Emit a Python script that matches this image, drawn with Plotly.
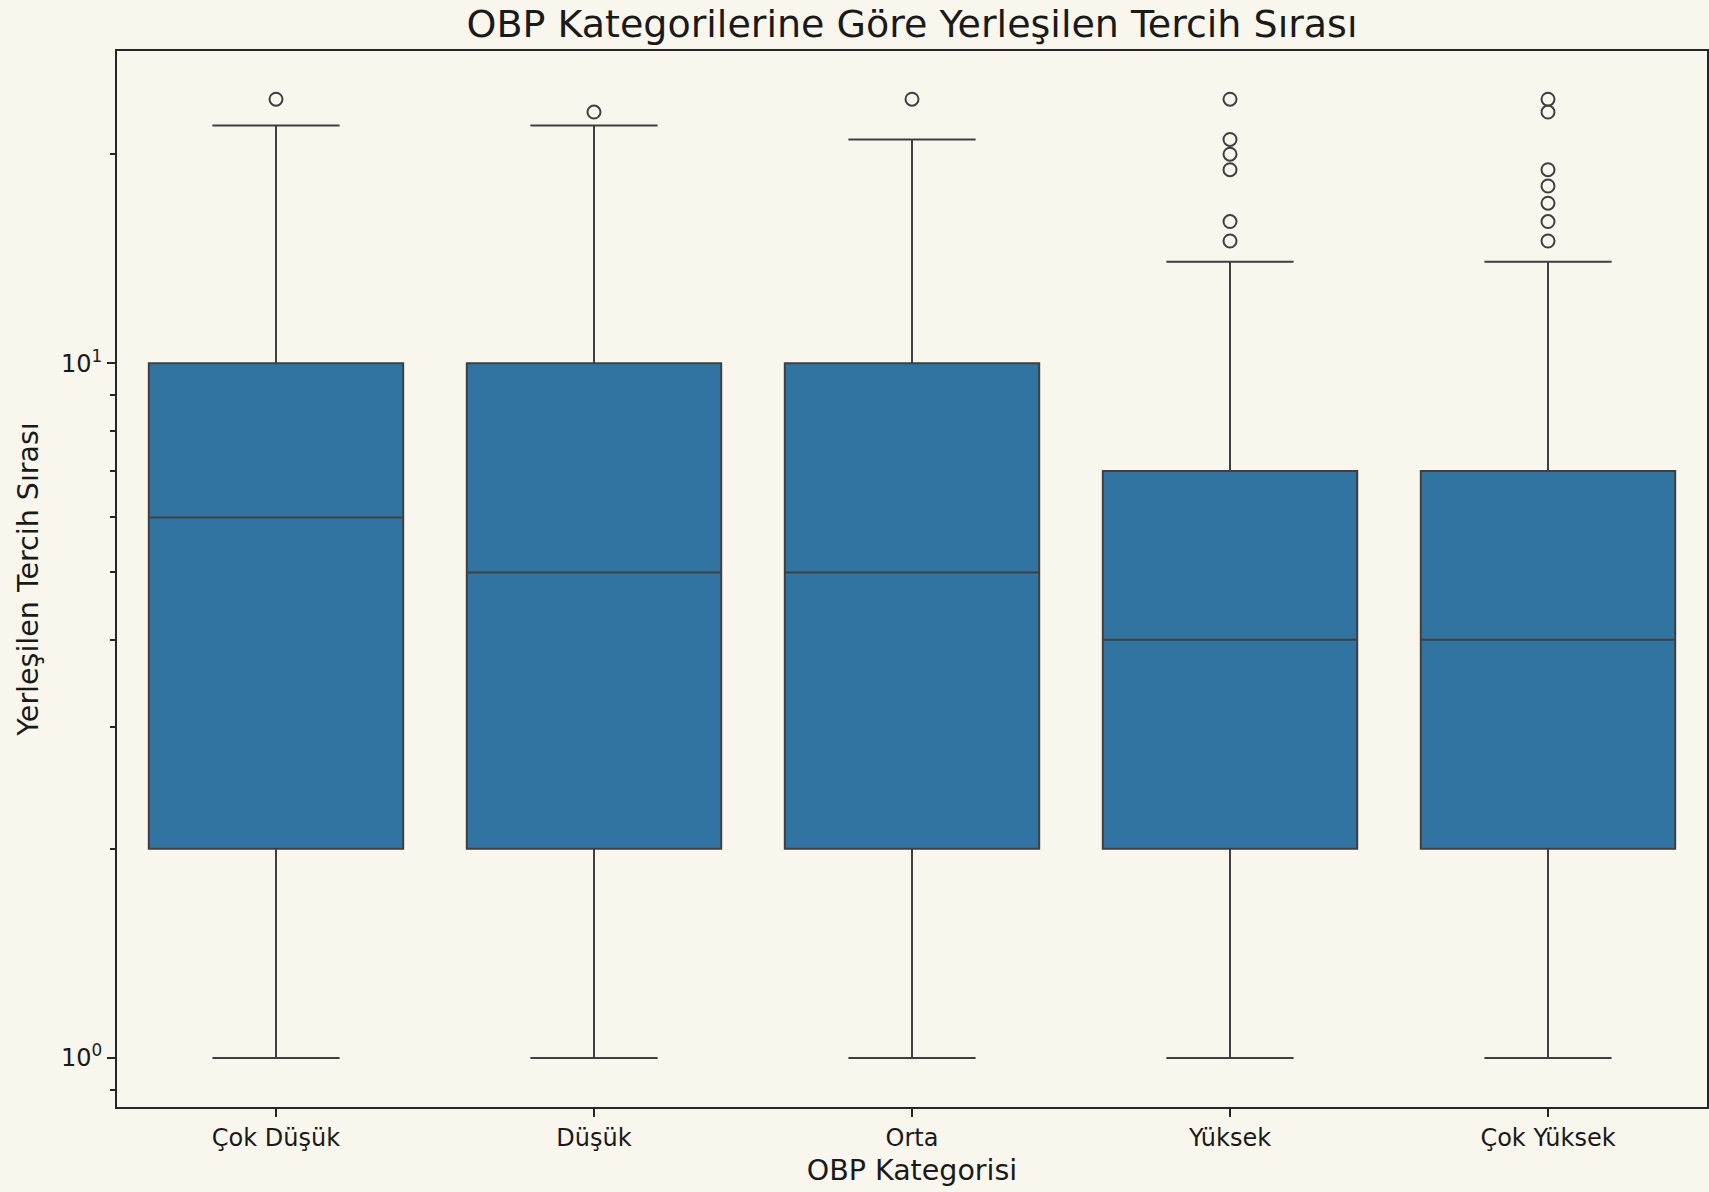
import plotly.graph_objects as go

# ---- data ----
categories = ["Çok Düşük", "Düşük", "Orta", "Yüksek", "Çok Yüksek"]
q1_vals = [2, 2, 2, 2, 2]
median_vals = [6, 5, 5, 4, 4]
q3_vals = [10, 10, 10, 7, 7]
lower_whisker = [1, 1, 1, 1, 1]
upper_whisker = [22, 22, 21, 14, 14]
outliers = {
    "Çok Düşük": [24],
    "Düşük": [23],
    "Orta": [24],
    "Yüksek": [15, 16, 19, 20, 21, 24],
    "Çok Yüksek": [15, 16, 17, 18, 19, 23, 24],
}
y_tick_vals = [1, 10]
y_tick_text = ["10<sup>0</sup>", "10<sup>1</sup>"]
y_minor_vals = [0.9, 2, 3, 4, 5, 6, 7, 8, 9, 20]

BG = "#f9f6ed"
BOX_FILL = "#3274a1"
LINE = "#3f3f3f"
SPINE = "#262626"
FONT = "DejaVu Sans"

fig = go.Figure()
fig.add_trace(go.Box(
    x=categories,
    q1=q1_vals,
    median=median_vals,
    q3=q3_vals,
    lowerfence=lower_whisker,
    upperfence=upper_whisker,
    fillcolor=BOX_FILL,
    line=dict(color=LINE, width=2),
    width=0.8,
    whiskerwidth=0.5,
    boxpoints=False,
    showlegend=False,
    hoverinfo="skip",
))

ox, oy = [], []
for c in categories:
    for v in outliers[c]:
        ox.append(c)
        oy.append(v)
fig.add_trace(go.Scatter(
    x=ox, y=oy, mode="markers",
    marker=dict(symbol="circle-open", size=13, color=LINE, line=dict(width=2, color=LINE)),
    showlegend=False, hoverinfo="skip",
))

fig.update_layout(
    width=1709, height=1192,
    paper_bgcolor=BG, plot_bgcolor=BG,
    margin=dict(l=117, r=0, t=51, b=85),
    font=dict(family=FONT, size=24, color="#1a1a1a"),
    title=dict(
        text="OBP Kategorilerine Göre Yerleşilen Tercih Sırası",
        font=dict(family=FONT, size=38, color="#1a1a1a"),
        x=0.5, xref="paper", xanchor="center",
        y=1 - 24 / 1192, yref="container", yanchor="middle",
    ),
    xaxis=dict(
        type="category",
        categoryorder="array", categoryarray=categories,
        range=[-0.5, 4.5],
        showline=True, linecolor=SPINE, linewidth=2, mirror=True,
        ticks="outside", ticklen=8, tickwidth=2, tickcolor=SPINE,
        showgrid=False, zeroline=False,
        tickfont=dict(size=24),
        title=dict(text="OBP Kategorisi", font=dict(size=28.5), standoff=9),
    ),
    yaxis=dict(
        type="log",
        range=[-0.0706, 1.4496],
        tickmode="array", tickvals=y_tick_vals, ticktext=y_tick_text,
        showline=True, linecolor=SPINE, linewidth=2, mirror=True,
        ticks="outside", ticklen=8, tickwidth=2, tickcolor=SPINE,
        minor=dict(ticks="outside", tickmode="array", tickvals=y_minor_vals,
                   ticklen=5, tickwidth=1.5, tickcolor=SPINE, showgrid=False),
        showgrid=False, zeroline=False,
        tickfont=dict(size=24),
        title=dict(text="Yerleşilen Tercih Sırası", font=dict(size=28.5), standoff=14),
    ),
)

page_js = (
    "document.body.style.margin='0';"
    "document.body.style.overflow='hidden';"
    "document.body.style.background='" + BG + "';"
    "document.documentElement.style.background='" + BG + "';"
)

fig.write_html("out.html", post_script=page_js, config={"displayModeBar": False})
